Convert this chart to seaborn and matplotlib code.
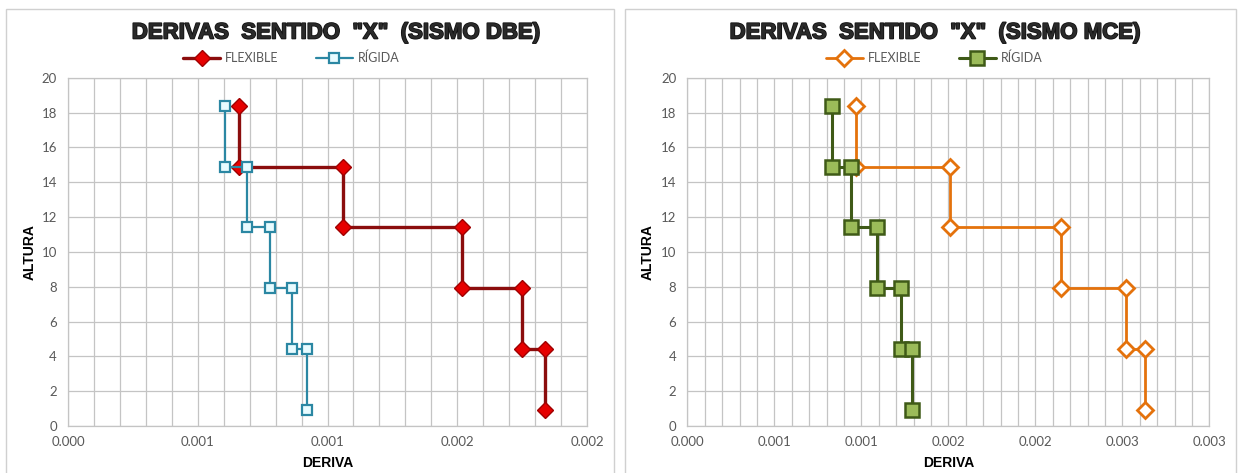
import matplotlib
matplotlib.use("Agg")
import matplotlib.pyplot as plt
import seaborn as sns
import pandas as pd
from decimal import Decimal, ROUND_HALF_UP
from matplotlib.ticker import MultipleLocator, FuncFormatter
from matplotlib.patches import Rectangle
from matplotlib import patheffects as pe

# Story levels (m): top of each storey down to the base reference
niveles = [18.4, 14.9, 11.4, 7.9, 4.4, 0.9]

# Inter-storey drifts, from the top storey downwards
deriva_dbe_flexible = [0.00066, 0.00106, 0.00152, 0.00175, 0.00184]
deriva_dbe_rigida = [0.000605, 0.00069, 0.000777, 0.000862, 0.00092]
deriva_mce_flexible = [0.00097, 0.00151, 0.00215, 0.00252, 0.00263]
deriva_mce_rigida = [0.00083, 0.00094, 0.00109, 0.00123, 0.00129]

titulos = ['DERIVAS  SENTIDO  "X"  (SISMO DBE)', 'DERIVAS  SENTIDO  "X"  (SISMO MCE)']
modelos = ["FLEXIBLE", "RÍGIDA"]
xlims = [0.002, 0.003]

W, H = 1243, 473

sns.set_theme(style="white")
plt.rcParams["font.family"] = ["Lato", "DejaVu Sans"]


def perfil(derivas):
    """Step profile: each drift spans from the top to the bottom of its storey."""
    filas = []
    for i, d in enumerate(derivas):
        filas.append((d, niveles[i]))
        filas.append((d, niveles[i + 1]))
    return pd.DataFrame(filas, columns=["DERIVA", "ALTURA"])


def fmt_deriva(v, pos):
    txt = str(round(float(v), 6))
    return str(Decimal(txt).quantize(Decimal("0.001"), rounding=ROUND_HALF_UP))


estilos = [
    [  # DBE
        dict(color="#8b0d0d", lw=2.4, marker="D", ms=8.5, mfc="#e60000", mec="#a00000", mew=1.0),
        dict(color="#2b87a3", lw=1.6, marker="s", ms=6.5, mfc="#e8fbff", mec="#2b87a3", mew=1.6),
    ],
    [  # MCE
        dict(color="#e4720c", lw=2.0, marker="D", ms=8.0, mfc="white", mec="#e4720c", mew=2.0),
        dict(color="#3f5a17", lw=2.2, marker="s", ms=9.5, mfc="#9bbb59", mec="#3f5a17", mew=1.8),
    ],
]
datos = [
    [deriva_dbe_flexible, deriva_dbe_rigida],
    [deriva_mce_flexible, deriva_mce_rigida],
]

fig = plt.figure(figsize=(W / 100, H / 100), dpi=100)
fig.patch.set_facecolor("white")

ax_rects = [
    (68 / W, (H - 426) / H, (587 - 68) / W, (426 - 77.7) / H),
    (687.3 / W, (H - 426) / H, (1209.3 - 687.3) / W, (426 - 77.7) / H),
]
cajas = [(6, 614), (625, 1236)]
titulo_x = [336, 935]
leyenda_x = [291, 934]
ylabel_x = [-0.060, -0.062]

for k in range(2):
    x0, x1 = cajas[k]
    fig.patches.append(Rectangle((x0 / W, -0.05), (x1 - x0) / W, (H - 9) / H + 0.05,
                                 transform=fig.transFigure, fill=False,
                                 ec="#d0d0d0", lw=1.0, zorder=0))

    ax = fig.add_axes(ax_rects[k])
    for j in range(2):
        df = perfil(datos[k][j])
        sns.lineplot(data=df, x="DERIVA", y="ALTURA", sort=False, estimator=None,
                     label=modelos[j], ax=ax, zorder=3 + j, **estilos[k][j])

    ax.set_xlim(0, xlims[k])
    ax.set_ylim(0, 20)
    ax.xaxis.set_major_locator(MultipleLocator(0.0005))
    ax.xaxis.set_minor_locator(MultipleLocator(0.0001))
    ax.yaxis.set_major_locator(MultipleLocator(2))
    ax.xaxis.set_major_formatter(FuncFormatter(fmt_deriva))
    ax.grid(which="both", axis="x", color="#c4c4c4", lw=0.9)
    ax.grid(which="major", axis="y", color="#c4c4c4", lw=0.9)
    ax.set_axisbelow(True)
    for s in ax.spines.values():
        s.set_color("#c4c4c4")
        s.set_linewidth(0.9)
    ax.tick_params(which="both", length=0)
    ax.tick_params(axis="x", pad=7, labelsize=9.5, labelcolor="#595959")
    ax.tick_params(axis="y", pad=8, labelsize=9.5, labelcolor="#595959")

    ax.set_xlabel("DERIVA", fontsize=10, fontweight="bold", color="black",
                  family=["Liberation Sans", "DejaVu Sans"])
    ax.set_ylabel("ALTURA", fontsize=10, fontweight="bold", color="black",
                  family=["Liberation Sans", "DejaVu Sans"])
    ax.xaxis.set_label_coords(0.5, -0.086)
    ax.yaxis.set_label_coords(ylabel_x[k], 0.5)

    ax.legend(loc="center", bbox_to_anchor=(leyenda_x[k] / W, 1 - 58 / H),
              bbox_transform=fig.transFigure, ncol=2, frameon=False,
              fontsize=9, handlelength=3.0, columnspacing=3.0,
              handletextpad=0.35, labelcolor="#595959")

    fig.text(titulo_x[k] / W, 1 - 33 / H, titulos[k], ha="center", va="center",
             fontsize=16, fontweight="bold", color="#2a2a2a",
             family=["Liberation Sans", "DejaVu Sans"],
             path_effects=[pe.withStroke(linewidth=1.2, foreground="#111111")])

fig.savefig("out.png", dpi=100, facecolor="white")
